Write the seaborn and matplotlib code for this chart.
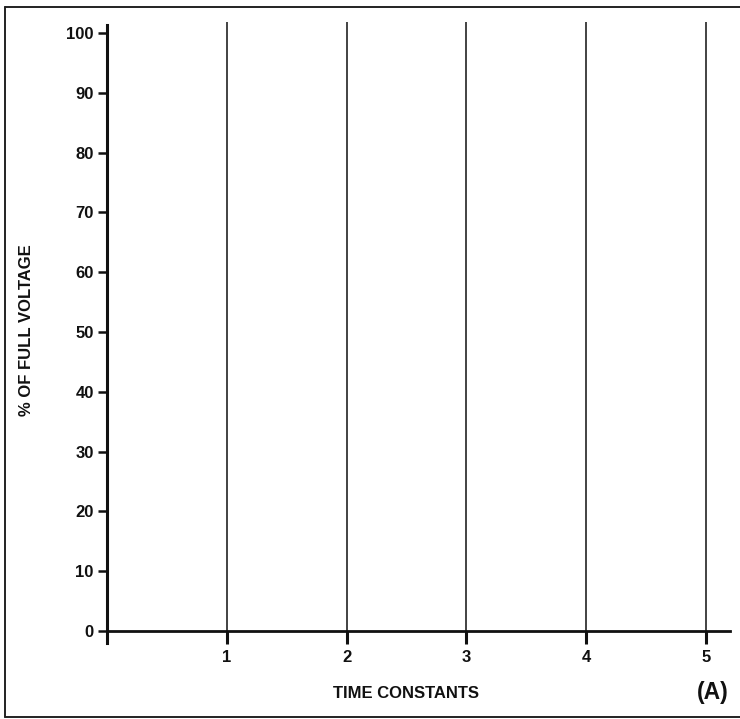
import matplotlib
matplotlib.use("Agg")
import matplotlib.pyplot as plt
import seaborn as sns
from matplotlib.lines import Line2D

time_constants = [1, 2, 3, 4, 5]
y_ticks = [0, 10, 20, 30, 40, 50, 60, 70, 80, 90, 100]
line_top = 101.8

sns.set_style("white")
plt.rcParams["font.family"] = ["Liberation Sans", "DejaVu Sans"]
plt.rcParams["font.weight"] = "bold"

fig = plt.figure(figsize=(7.40, 7.19), dpi=100)
W, H = 740, 719
# axes: x 0 -> px 107, 5.2 -> px 730 ; y -2 -> px 643, 102 -> px 21
ax = fig.add_axes([107 / W, (H - 643) / H, (730 - 107) / W, (643 - 21) / H])
ax.set_xlim(0, 5.2)
ax.set_ylim(-2, 102)

ax.vlines(time_constants, 0, line_top, color="#222222", linewidth=1.2)

for s in ["top", "right"]:
    ax.spines[s].set_visible(False)
ax.spines["bottom"].set_position(("data", 0))
ax.spines["bottom"].set_linewidth(2.0)
ax.spines["left"].set_linewidth(2.2)
ax.spines["left"].set_bounds(-2, 101.3)
for s in ["bottom", "left"]:
    ax.spines[s].set_color("#111111")

ax.set_xticks(time_constants)
ax.set_xticklabels([str(t) for t in time_constants])
ax.set_yticks(y_ticks)
ax.set_yticklabels([str(v) for v in y_ticks])
ax.tick_params(axis="x", direction="out", length=9, width=2.2, pad=5,
               labelsize=12, colors="#111111", bottom=True)
ax.tick_params(axis="y", direction="out", length=6.5, width=1.8, pad=3,
               labelsize=12, colors="#111111", left=True)
for lab in ax.get_xticklabels() + ax.get_yticklabels():
    lab.set_fontweight("bold")

fig.text(406 / W, 1 - 694 / H, "TIME CONSTANTS", ha="center", va="center",
         fontsize=12, fontweight="bold", color="#111111")
fig.text(713 / W, 1 - 692 / H, "(A)", ha="center", va="center",
         fontsize=16.5, fontweight="bold", color="#111111")
fig.text(27 / W, 1 - 330 / H, "% OF FULL VOLTAGE", ha="center", va="center",
         rotation=90, fontsize=12, fontweight="bold", color="#111111")

# outer frame (open on the right)
frame = dict(color="#222222", linewidth=1.4, transform=fig.transFigure)
fig.add_artist(Line2D([5 / W, 1.0], [1 - 7 / H, 1 - 7 / H], **frame))
fig.add_artist(Line2D([5 / W, 5 / W], [1 - 7 / H, 1 - 717 / H], **frame))
fig.add_artist(Line2D([5 / W, 1.0], [1 - 717 / H, 1 - 717 / H], **frame))

fig.savefig("out.png", dpi=100)
